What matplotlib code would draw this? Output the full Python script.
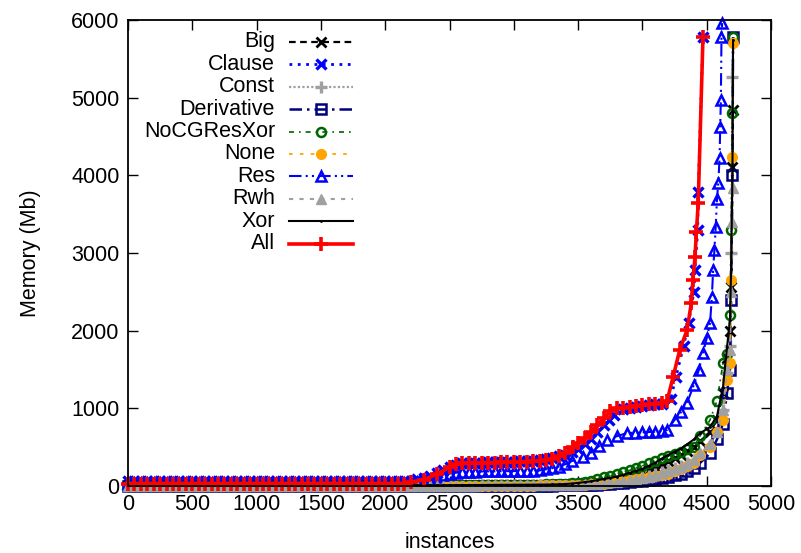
import matplotlib
matplotlib.use("Agg")
import matplotlib.pyplot as plt
from matplotlib.lines import Line2D

plt.rcParams['font.family'] = ['Liberation Sans', 'DejaVu Sans']

# ---------------- data (instances solved vs memory, cactus style) ----------------
flat_x = [0, 50, 100, 150, 200, 250, 300, 350, 400, 450, 500, 550, 600, 650, 700, 750,
          800, 850, 900, 950, 1000, 1050, 1100, 1150, 1200, 1250, 1300, 1350, 1400, 1450,
          1500, 1550, 1600, 1650, 1700, 1750, 1800, 1850, 1900, 1950, 2000, 2050, 2100, 2150]
NF = len(flat_x)

all_x = flat_x + [2200, 2300, 2400, 2500, 2550, 2600, 2650, 2700, 2750, 2800, 2850, 2900,
                  2950, 3000, 3050, 3100, 3150, 3200, 3250, 3300, 3350, 3400, 3460, 3500,
                  3550, 3600, 3650, 3700, 3750, 3800, 3850, 3900, 3950, 4000, 4050, 4100,
                  4150, 4191, 4238, 4290, 4347, 4380, 4393, 4409, 4420, 4434, 4471]
all_y = [30] * NF + [50, 80, 150, 240, 280, 290, 292, 295, 297, 300, 302, 305,
                     307, 310, 312, 315, 318, 320, 330, 350, 380, 420, 500, 550,
                     620, 700, 780, 880, 960, 1000, 1010, 1020, 1030, 1040, 1050, 1060,
                     1075, 1090, 1400, 1750, 2008, 2350, 2650, 2950, 3270, 3644, 5780]

clause_x = flat_x + [2200, 2250, 2300, 2350, 2400, 2450, 2500, 2550, 2600, 2650, 2700, 2750,
                     2800, 2850, 2900, 2950, 3000, 3050, 3100, 3150, 3200, 3250, 3300, 3350,
                     3400, 3450, 3500, 3550, 3600, 3650, 3700, 3740, 3780, 3850, 3900, 3950,
                     4000, 4050, 4100, 4150, 4220, 4260, 4320, 4360, 4400, 4409, 4430, 4434,
                     4471]
clause_y = [60] * NF + [70, 85, 100, 130, 170, 210, 250, 270, 290, 295, 300, 302,
                        305, 307, 310, 312, 315, 318, 320, 325, 330, 345, 360, 380,
                        400, 440, 480, 540, 600, 690, 780, 850, 920, 990, 1005, 1020,
                        1030, 1040, 1050, 1060, 1120, 1400, 1800, 2100, 2500, 2780, 3300, 3785,
                        5780]

res_x = flat_x + [2200, 2250, 2300, 2350, 2400, 2450, 2500, 2550, 2600, 2650, 2700, 2750,
                  2800, 2850, 2900, 2950, 3000, 3050, 3100, 3150, 3200, 3250, 3300, 3350,
                  3400, 3450, 3538, 3600, 3660, 3725, 3800, 3880, 3940, 4000, 4050, 4100,
                  4150, 4191, 4250, 4300, 4347, 4400, 4440, 4471, 4500, 4526, 4540, 4550,
                  4560, 4570, 4580, 4590, 4600, 4605, 4610, 4615, 4620]
res_y = [40] * NF + [45, 50, 60, 80, 110, 140, 160, 172, 180, 182, 185, 187,
                     188, 189, 190, 191, 192, 193, 195, 197, 200, 215, 230, 250,
                     280, 320, 373, 430, 510, 592, 640, 682, 686, 690, 695, 700,
                     710, 720, 850, 950, 1070, 1300, 1500, 1712, 1900, 2098, 2430, 2780,
                     3040, 3335, 3700, 3900, 4220, 4620, 4970, 5780, 5960]

low_x = flat_x + [2200, 2250, 2300, 2350, 2400, 2450, 2500, 2550, 2600, 2650, 2700, 2750,
                  2800, 2850, 2900, 2950, 3000, 3050, 3100, 3150, 3200, 3250, 3300,
                  3350, 3400, 3450, 3500, 3550, 3600, 3650, 3700, 3750, 3800, 3850, 3900,
                  3950, 4000, 4050, 4100, 4150, 4200, 4250, 4300, 4350, 4400, 4450,
                  4526, 4580, 4627, 4658, 4681, 4690, 4700, 4705]

xor_y = [10] * NF + [10, 10, 10, 10, 10, 10, 11, 11, 12, 12, 13, 13, 14, 14, 15, 15, 16, 16,
                     17, 17, 18, 18, 20,
                     22, 25, 32, 40, 50, 60, 75, 90, 105, 120, 145, 170, 195, 220, 260, 300,
                     350, 400, 440, 480, 540, 600, 680,
                     760, 900, 1275, 1790, 2137, 2800, 4000, 5740]
nocg_y = [5] * NF + [5, 5, 6, 6, 6, 7, 7, 8, 8, 9, 10, 10, 11, 12, 13, 14, 15, 16, 17, 18,
                     19, 20, 22,
                     26, 30, 35, 40, 55, 70, 90, 110, 130, 150, 175, 200, 230, 260, 290, 320,
                     355, 390, 415, 440, 470, 502, 650,
                     850, 1100, 1583, 1700, 2200, 3300, 4800, 5780]
big_y = [10] * NF + [10, 10, 10, 10, 10, 10, 10, 11, 11, 12, 12, 12, 13, 13, 14, 14, 14, 15,
                     15, 16, 16, 17, 18,
                     19, 20, 25, 30, 37, 45, 57, 70, 85, 100, 120, 140, 160, 180, 210, 240,
                     280, 320, 360, 400, 450, 500, 580,
                     700, 850, 1200, 1650, 2000, 2560, 4110, 4840]
const_y = [5] * NF + [5, 5, 5, 5, 5, 5, 5, 6, 6, 6, 6, 7, 7, 8, 8, 8, 9, 9, 10, 10,
                      11, 11, 12,
                      13, 14, 16, 18, 21, 25, 32, 40, 50, 60, 70, 80, 95, 110, 130, 150,
                      175, 200, 230, 260, 295, 330, 400,
                      520, 700, 980, 1450, 1800, 3000, 5265, 5700]
rwh_y = [5] * NF + [5, 5, 5, 5, 5, 5, 5, 6, 6, 6, 6, 7, 7, 8, 8, 8, 9, 9, 10, 10,
                    11, 11, 12,
                    13, 14, 16, 18, 21, 25, 30, 40, 48, 55, 65, 75, 88, 100, 120, 140,
                    165, 190, 218, 245, 285, 330, 420,
                    540, 700, 980, 1500, 1750, 2500, 3400, 3840]
none_y = [0] * NF + [0, 0, 0, 0, 0, 0, 1, 1, 2, 2, 2, 3, 3, 4, 4, 5, 5, 6, 6, 6,
                     7, 7, 8,
                     9, 10, 11, 12, 16, 20, 25, 30, 45, 60, 70, 80, 90, 100, 115, 130,
                     145, 160, 190, 220, 260, 300, 400,
                     502, 700, 850, 1364, 1583, 2650, 4236, 5700]
deriv_y = [0] * NF + [0, 0, 0, 0, 0, 0, 1, 1, 2, 2, 2, 2, 3, 3, 3, 4, 4, 4, 5, 5,
                      6, 6, 6,
                      7, 8, 9, 10, 12, 14, 17, 20, 27, 35, 42, 50, 60, 70, 80, 90,
                      103, 116, 138, 160, 195, 230, 300,
                      420, 600, 800, 1200, 1500, 2400, 4000, 5780]

series_names = ["Big", "Clause", "Const", "Derivative", "NoCGResXor", "None", "Res", "Rwh", "Xor", "All"]
series_x = [low_x, clause_x, low_x, low_x, low_x, low_x, res_x, low_x, low_x, all_x]
series_y = [big_y, clause_y, const_y, deriv_y, nocg_y, none_y, res_y, rwh_y, xor_y, all_y]

x_ticks = [0, 500, 1000, 1500, 2000, 2500, 3000, 3500, 4000, 4500, 5000]
y_ticks = [0, 1000, 2000, 3000, 4000, 5000, 6000]

# ---------------- styles ----------------
styles = [
    dict(color="black", ls=(0, (3, 2)), lw=1.6, marker="x", ms=7, mew=2.0, mfc="black"),
    dict(color="#0000ff", ls=(0, (1, 2)), lw=2.0, marker="x", ms=7, mew=2.4, mfc="#0000ff"),
    dict(color="#a0a0a0", ls=(0, (1, 1)), lw=1.6, marker="+", ms=8, mew=2.4, mfc="#a0a0a0"),
    dict(color="#000080", ls=(0, (5, 2, 1, 2)), lw=1.8, marker="s", ms=6.5, mew=1.8, mfc="none"),
    dict(color="#006400", ls=(0, (3, 3, 1, 3)), lw=1.2, marker="o", ms=6.5, mew=1.8, mfc="none"),
    dict(color="#ffa500", ls=(0, (2, 4)), lw=1.3, marker="o", ms=7, mew=1.0, mfc="#ffa500"),
    dict(color="#0000ff", ls=(0, (6, 2, 1, 2, 1, 2)), lw=1.5, marker="^", ms=7.5, mew=1.8, mfc="none"),
    dict(color="#a0a0a0", ls=(0, (2, 3)), lw=1.5, marker="^", ms=7, mew=1.0, mfc="#a0a0a0"),
    dict(color="black", ls="-", lw=1.5, marker=".", ms=2, mew=1.0, mfc="black"),
    dict(color="#ff0000", ls="-", lw=2.6, marker="+", ms=10, mew=2.6, mfc="#ff0000"),
]

FS = 15.5

fig = plt.figure(figsize=(8.01, 5.53), dpi=100)
ax = fig.add_axes([128 / 801, (553 - 486) / 553, 643 / 801, 466 / 553])

for name, xs, ys, st in zip(series_names, series_x, series_y, styles):
    ax.plot(xs, ys, color=st["color"], linestyle=st["ls"], linewidth=st["lw"],
            marker=st["marker"], markersize=st["ms"], markeredgewidth=st["mew"],
            markerfacecolor=st["mfc"], markeredgecolor=st["color"], clip_on=False,
            label=name, zorder=3)

ax.set_xlim(0, 5000)
ax.set_ylim(0, 6000)
ax.set_xticks(x_ticks)
ax.set_yticks(y_ticks)
ax.tick_params(direction="in", length=7, width=1.0, top=True, right=True,
               labelsize=FS, pad=6, colors="black")
for sp in ax.spines.values():
    sp.set_linewidth(1.3)
    sp.set_zorder(5)

ax.set_xlabel("instances", fontsize=FS, labelpad=12)
ax.set_ylabel("Memory (Mb)", fontsize=FS, labelpad=22)

# legend drawn gnuplot-style: right-aligned labels, samples to the right
tx = (275 - 128) / 643
hx0 = (289 - 128) / 643
hx1 = (353 - 128) / 643
hxm = (hx0 + hx1) / 2
y0 = (486 - 42) / 466
dy = 22.4 / 466
for i, (name, st) in enumerate(zip(series_names, styles)):
    yy = y0 - i * dy
    ax.text(tx, yy, name, transform=ax.transAxes, ha="right", va="center", fontsize=FS)
    ln = Line2D([hx0, hx1], [yy, yy], transform=ax.transAxes, color=st["color"],
                linestyle=st["ls"], linewidth=st["lw"], clip_on=False)
    ax.add_line(ln)
    mk = Line2D([hxm], [yy], transform=ax.transAxes, color=st["color"], linestyle="none",
                marker=st["marker"], markersize=st["ms"], markeredgewidth=st["mew"],
                markerfacecolor=st["mfc"], markeredgecolor=st["color"], clip_on=False)
    ax.add_line(mk)

fig.savefig("out.png", dpi=100)
